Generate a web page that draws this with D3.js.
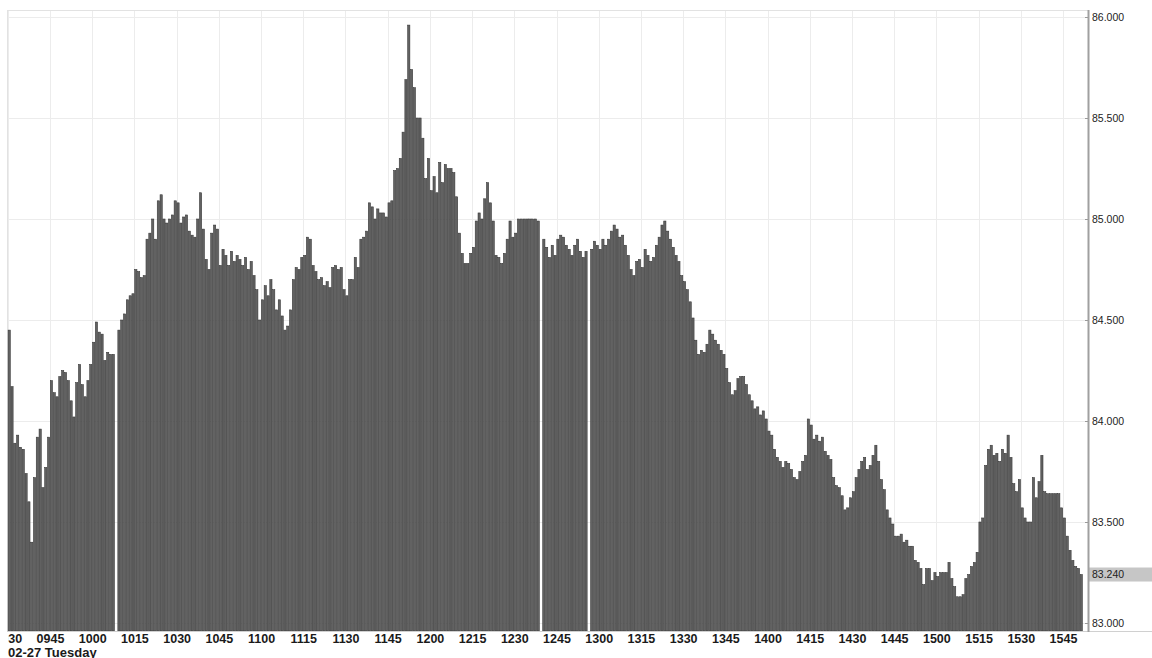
<!DOCTYPE html>
<html>
<head>
<meta charset="utf-8">
<script src="https://cdn.jsdelivr.net/npm/d3@7"></script>
<style>
  body { margin: 0; background: #fff; }
  svg { display: block; }
</style>
</head>
<body>
<div id="chart"></div>
<script>
var chart_width = 1152
var chart_height = 658
var plot_left = 7
var plot_right = 1088
var plot_top = 10
var plot_bottom = 631

// one bar per minute, starting 09:30
var date_label = '02-27 Tuesday'
var tick_labels = ['0930', '0945', '1000', '1015', '1030', '1045', '1100', '1115', '1130',
  '1145', '1200', '1215', '1230', '1245', '1300', '1315', '1330', '1345', '1400', '1415',
  '1430', '1445', '1500', '1515', '1530', '1545']
var price_ticks = [83, 83.5, 84, 84.5, 85, 85.5, 86]
var last_price = 83.24

var prices_0930 = [84.45, 84.17, 83.89, 83.93, 83.87, 83.86, 83.74, 83.60, 83.40, 83.72, 83.92, 83.96, 83.67, 83.77, 83.92,
  84.20, 84.14, 84.12, 84.22, 84.25, 84.24, 84.20, 84.10, 84.02, 84.19, 84.28, 84.18, 84.12, 84.20, 84.28,
  84.39, 84.49, 84.44, 84.43, 84.30, 84.34, 84.33, 84.33, null, 84.45, 84.50, 84.53, 84.60, 84.62, 84.63,
  84.75, 84.74, 84.71, 84.72, 84.90, 84.93, 85.00, 84.90, 85.09, 85.12, 85.00, 84.98, 85.00, 85.02, 85.09]
var prices_1030 = [85.08, 84.98, 85.01, 85.02, 84.94, 84.92, 84.91, 85.00, 85.13, 84.95, 84.80, 84.75, 84.93, 84.97, 84.95,
  84.77, 84.85, 84.82, 84.77, 84.84, 84.79, 84.82, 84.80, 84.77, 84.81, 84.75, 84.79, 84.72, 84.65, 84.50,
  84.60, 84.67, 84.62, 84.70, 84.65, 84.55, 84.60, 84.52, 84.45, 84.47, 84.55, 84.70, 84.76, 84.75, 84.81,
  84.82, 84.91, 84.90, 84.77, 84.74, 84.70, 84.71, 84.67, 84.69, 84.66, 84.76, 84.77, 84.75, 84.76, 84.65]
var prices_1130 = [84.62, 84.70, 84.70, 84.81, 84.76, 84.90, 84.91, 84.94, 85.08, 85.06, 85.00, 85.05, 85.03, 85.03, 85.01,
  85.08, 85.09, 85.24, 85.25, 85.30, 85.43, 85.69, 85.96, 85.74, 85.65, 85.50, 85.50, 85.40, 85.20, 85.30,
  85.14, 85.21, 85.13, 85.28, 85.18, 85.27, 85.25, 85.25, 85.23, 85.11, 84.93, 84.83, 84.78, 84.78, 84.83,
  84.86, 84.99, 85.03, 85.00, 85.10, 85.18, 85.08, 84.99, 84.82, 84.81, 84.78, 84.83, 84.90, 84.99, 84.91]
var prices_1230 = [84.93, 85.00, 85.00, 85.00, 85.00, 85.00, 85.00, 85.00, 84.99, null, 84.90, 84.86, 84.81, 84.87, 84.82,
  84.90, 84.92, 84.91, 84.87, 84.85, 84.82, 84.87, 84.90, 84.84, 84.81, 84.84, null, 84.85, 84.89, 84.87,
  84.85, 84.90, 84.87, 84.90, 84.94, 84.97, 84.95, 84.91, 84.92, 84.87, 84.82, 84.75, 84.72, 84.79, 84.80,
  84.76, 84.85, 84.82, 84.79, 84.81, 84.87, 84.91, 84.97, 84.99, 84.94, 84.90, 84.86, 84.82, 84.79, 84.72]
var prices_1330 = [84.69, 84.65, 84.59, 84.51, 84.40, 84.33, 84.35, 84.34, 84.38, 84.45, 84.43, 84.40, 84.38, 84.35, 84.33,
  84.26, 84.19, 84.13, 84.15, 84.21, 84.22, 84.22, 84.18, 84.13, 84.10, 84.06, 84.07, 84.03, 84.05, 84.01,
  83.95, 83.93, 83.86, 83.82, 83.80, 83.77, 83.80, 83.79, 83.76, 83.72, 83.71, 83.75, 83.80, 83.83, 84.01,
  83.98, 83.91, 83.93, 83.90, 83.92, 83.85, 83.83, 83.81, 83.72, 83.68, 83.67, 83.63, 83.56, 83.57, 83.62]
var prices_1430 = [83.65, 83.72, 83.76, 83.80, 83.82, 83.76, 83.78, 83.83, 83.88, 83.80, 83.71, 83.66, 83.56, 83.52, 83.49,
  83.43, 83.43, 83.44, 83.40, 83.41, 83.38, 83.38, 83.31, 83.30, 83.27, 83.19, 83.27, 83.27, 83.21, 83.25,
  83.23, 83.25, 83.25, 83.25, 83.30, 83.22, 83.18, 83.13, 83.13, 83.14, 83.22, 83.24, 83.28, 83.30, 83.35,
  83.50, 83.52, 83.78, 83.86, 83.88, 83.83, 83.84, 83.80, 83.86, 83.84, 83.93, 83.82, 83.69, 83.65, 83.71]
var prices_1530 = [83.57, 83.52, 83.50, 83.50, 83.72, 83.62, 83.70, 83.83, 83.65, 83.64, 83.64, 83.64, 83.64, 83.64, 83.57,
  83.52, 83.43, 83.36, 83.31, 83.28, 83.27, 83.24]

var prices = [].concat(prices_0930, prices_1030, prices_1130, prices_1230,
  prices_1330, prices_1430, prices_1530)

var font = "'Liberation Sans', Arial, sans-serif"

var svg = d3.select('#chart')
  .append('svg')
  .attr('width', chart_width)
  .attr('height', chart_height)
  .style('background', '#fff')

// scales: minutes since 09:30 -> x, price -> y
var x_scale = d3.scaleLinear()
  .domain([0, 375])
  .range([7.8, 1063])

var y_scale = d3.scaleLinear()
  .domain([83, 86])
  .range([623, 17])

var tick_minutes = tick_labels.map((d, k) => k * 15)

// grid
svg.append('g')
  .selectAll('line')
  .data(tick_minutes)
  .join('line')
  .attr('x1', d => Math.round(x_scale(d)) + 0.5)
  .attr('x2', d => Math.round(x_scale(d)) + 0.5)
  .attr('y1', plot_top)
  .attr('y2', plot_bottom)
  .attr('stroke', '#ececec')

svg.append('g')
  .selectAll('line')
  .data(price_ticks)
  .join('line')
  .attr('x1', plot_left)
  .attr('x2', plot_right)
  .attr('y1', d => Math.round(y_scale(d)) + 0.5)
  .attr('y2', d => Math.round(y_scale(d)) + 0.5)
  .attr('stroke', '#ececec')

svg.append('line')
  .attr('x1', plot_left).attr('x2', plot_right)
  .attr('y1', plot_top + 0.5).attr('y2', plot_top + 0.5)
  .attr('stroke', '#e2e2e2')
svg.append('line')
  .attr('x1', plot_left + 0.5).attr('x2', plot_left + 0.5)
  .attr('y1', plot_top).attr('y2', plot_bottom)
  .attr('stroke', '#e2e2e2')

// bars
var bar_data = prices.map((v, i) => ({ i: i, v: v })).filter(d => d.v != null)

svg.append('g')
  .selectAll('rect')
  .data(bar_data)
  .join('rect')
  .attr('x', d => x_scale(d.i) + 0.3)
  .attr('width', d => x_scale(d.i + 1) - x_scale(d.i) - 0.6)
  .attr('y', d => y_scale(d.v))
  .attr('height', d => plot_bottom - y_scale(d.v))
  .attr('fill', '#626262')
  .attr('stroke', '#333')
  .attr('stroke-width', 0.55)

// bottom line
svg.append('line')
  .attr('x1', plot_left).attr('x2', chart_width)
  .attr('y1', plot_bottom + 0.5).attr('y2', plot_bottom + 0.5)
  .attr('stroke', '#d0d0d0')

// last price marker
svg.append('rect')
  .attr('x', plot_right + 1)
  .attr('y', y_scale(last_price) - 7)
  .attr('width', chart_width - plot_right - 1)
  .attr('height', 14)
  .attr('fill', '#c6c6c6')

// right price axis
var y_axis = d3.axisRight(y_scale)
  .tickValues(price_ticks)
  .tickFormat(d3.format('.3f'))
  .tickSize(-3)
  .tickPadding(4)

var y_g = svg.append('g')
  .attr('transform', 'translate(' + plot_right + ', 0)')
  .call(y_axis)
y_g.select('.domain').remove()
y_g.selectAll('line').attr('stroke', '#999')
y_g.selectAll('text')
  .attr('font-family', font)
  .attr('font-size', '10.5px')
  .attr('fill', '#222')

svg.append('text')
  .attr('x', plot_right + 4)
  .attr('y', y_scale(last_price))
  .attr('dy', '0.32em')
  .attr('font-family', font)
  .attr('font-size', '10.5px')
  .attr('fill', '#222')
  .text(d3.format('.3f')(last_price))

svg.append('line')
  .attr('x1', plot_right + 0.5).attr('x2', plot_right + 0.5)
  .attr('y1', plot_top).attr('y2', plot_bottom + 1)
  .attr('stroke', '#a0a0a0')
  .attr('stroke-width', 2)

// time axis, first label clipped by the left edge like the original
svg.append('clipPath')
  .attr('id', 'time-clip')
  .append('rect')
  .attr('x', plot_left + 1)
  .attr('y', plot_bottom)
  .attr('width', plot_right - plot_left)
  .attr('height', chart_height - plot_bottom)

var x_axis = d3.axisBottom(x_scale)
  .tickValues(tick_minutes)
  .tickFormat((d, k) => tick_labels[k])
  .tickSize(0)
  .tickPadding(3)

var x_g = svg.append('g')
  .attr('clip-path', 'url(#time-clip)')
  .append('g')
  .attr('transform', 'translate(0, ' + plot_bottom + ')')
  .call(x_axis)
x_g.select('.domain').remove()
x_g.selectAll('text')
  .attr('font-family', font)
  .attr('font-size', '12.5px')
  .attr('font-weight', 'bold')
  .attr('fill', '#1a1a1a')

svg.append('text')
  .attr('x', plot_left + 1)
  .attr('y', 656.5)
  .attr('font-family', font)
  .attr('font-size', '13px')
  .attr('font-weight', 'bold')
  .attr('fill', '#1a1a1a')
  .text(date_label)
</script>
</body>
</html>
